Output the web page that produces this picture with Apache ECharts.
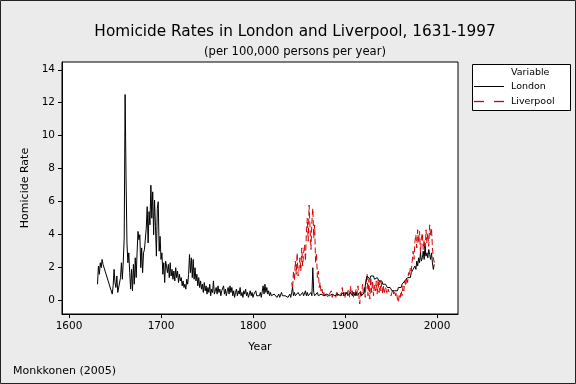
<!DOCTYPE html>
<html>
<head>
<meta charset="utf-8">
<script src="https://cdn.jsdelivr.net/npm/echarts@6/dist/echarts.min.js"></script>
<style>
html,body{margin:0;padding:0;background:#ebebeb;}
#c{width:576px;height:384px;}
</style>
</head>
<body>
<div id="c"></div>
<script>
// ---- data ----
var londonYears = [1631,1632,1633,1634,1635,1636,1637,
1647,1648,1649,1650,1651,1652,1653,1654,1655,1656,1657,1658,1659,1660,
1661,1662,1663,1664,1665,1666,1667,1668,1669,1670,1671,1672,1673,1674,1675,1676,1677,1678,1679,1680,
1681,1682,1683,1684,1685,1686,1687,1688,1689,1690,1691,1692,1693,1694,1695,1696,1697,1698,1699,1700,
1701,1702,1703,1704,1705,1706,1707,1708,1709,1710,1711,1712,1713,1714,1715,1716,1717,1718,1719,1720,
1721,1722,1723,1724,1725,1726,1727,1728,1729,1730,1731,1732,1733,1734,1735,1736,1737,1738,1739,1740,
1741,1742,1743,1744,1745,1746,1747,1748,1749,1750,1751,1752,1753,1754,1755,1756,1757,1758,1759,1760,
1761,1762,1763,1764,1765,1766,1767,1768,1769,1770,1771,1772,1773,1774,1775,1776,1777,1778,1779,1780,
1781,1782,1783,1784,1785,1786,1787,1788,1789,1790,1791,1792,1793,1794,1795,1796,1797,1798,1799,1800,
1801,1802,1803,1804,1805,1806,1807,1808,1809,1810,1811,1812,1813,1814,1815,1816,1817,1818,1819,1820,
1821,1822,1823,1824,1825,1826,1827,1828,1829,1830,1831,1832,1833,1834,1835,1836,1837,1838,1839,1840,
1841,1842,1843,1844,1845,1846,1847,1848,1849,1850,1851,1852,1853,1854,1855,1856,1857,1858,1859,1860,
1861,1862,1863,1864,1865,1866,1867,1868,1869,1870,1871,1872,1873,1874,1875,1876,1877,1878,1879,1880,
1881,1882,1883,1884,1885,1886,1887,1888,1889,1890,1891,1892,1893,1894,1895,1896,1897,1898,1899,1900,
1901,1902,1903,1904,1905,1906,1907,1908,1909,1910,1911,1912,1913,1914,1915,1916,1917,1918,1919,1920,
1921,1922,1923,1924,1925,1926,1927,1928,1929,1930,1931,1932,1933,1934,1935,1936,1937,1938,1939,1940,
1941,1942,1943,1944,1945,1946,1947,1948,1949,1950,1951,1952,1953,1954,1955,1956,1957,1958,1959,1960,
1961,1962,1963,1964,1965,1966,1967,1968,1969,1970,1971,1972,1973,1974,1975,1976,1977,1978,1979,1980,
1981,1982,1983,1984,1985,1986,1987,1988,1989,1990,1991,1992,1993,1994,1995,1996,1997];
var londonRates = [1.0,2.1,1.6,2.3,2.0,2.5,2.2,
0.4,0.9,1.9,1.1,0.8,1.5,0.5,0.6,0.5,1.4,2.3,1.3,2.4,3.8,
12.5,7.5,3.5,2.3,2.9,1.7,0.7,1.9,0.6,2.2,1.0,2.6,1.4,2.9,4.2,3.7,4.0,2.0,3.2,1.7,
2.9,3.1,3.1,4.4,5.7,3.5,5.4,4.6,7.0,5.0,6.6,4.0,6.1,4.5,2.7,5.6,6.0,3.0,3.9,2.5,
2.9,1.6,2.3,1.1,2.4,2.1,1.7,2.2,1.4,2.3,1.5,1.9,1.3,1.8,1.2,2.0,1.4,1.8,1.1,1.6,
1.2,1.4,0.9,1.2,0.8,1.0,0.7,1.3,1.0,1.6,2.8,1.7,2.6,1.4,2.5,1.3,2.0,1.2,1.6,0.9,
1.4,0.8,1.2,0.7,1.0,0.5,1.1,0.6,0.9,0.4,0.8,0.5,1.0,0.3,0.7,0.5,1.2,0.4,0.6,0.8,
0.4,0.9,0.5,0.7,0.3,0.6,0.5,0.9,0.4,0.7,0.3,0.6,0.8,0.4,0.9,0.5,0.8,0.3,0.6,0.2,
0.5,0.7,0.3,0.6,0.4,0.8,0.3,0.5,0.2,0.6,0.4,0.7,0.3,0.5,0.2,0.4,0.6,0.3,0.5,0.2,
0.4,0.3,0.6,0.3,0.4,0.2,0.3,0.5,0.2,0.3,0.9,0.4,1.0,0.5,0.8,0.4,0.6,0.3,0.5,0.3,
0.4,0.2,0.4,0.3,0.5,0.2,0.3,0.4,0.2,0.3,0.5,0.3,0.2,0.4,0.3,0.2,0.3,0.2,0.3,0.4,
0.2,0.5,0.8,0.3,0.5,0.3,0.4,0.2,0.5,0.6,0.3,0.4,0.2,0.5,0.3,0.4,0.6,0.3,0.5,0.3,
0.4,0.3,0.5,0.3,2.0,0.5,0.3,0.4,0.3,0.5,0.3,0.4,0.3,0.4,0.3,0.5,0.3,0.4,0.2,0.4,
0.3,0.5,0.3,0.4,0.2,0.4,0.3,0.5,0.3,0.4,0.2,0.4,0.3,0.5,0.3,0.4,0.3,0.5,0.3,0.4,
0.3,0.5,0.3,0.4,0.3,0.5,0.4,0.3,0.5,0.4,0.3,0.5,0.3,0.4,0.3,0.5,0.4,0.3,0.4,0.3,
0.5,0.4,1.3,1.5,1.4,1.6,1.3,1.5,1.6,1.4,1.5,1.3,1.4,1.2,1.4,1.3,1.2,1.3,1.1,1.2,
1.0,1.1,0.9,1.0,0.9,0.8,0.9,0.7,0.8,0.7,0.6,0.7,0.5,0.6,0.5,0.7,0.6,0.8,0.7,0.9,
0.8,1.0,0.9,1.1,1.2,1.1,1.3,1.4,1.3,1.5,1.4,1.7,1.6,1.9,1.8,2.1,1.9,2.4,2.1,2.6,
2.3,2.9,2.4,2.6,3.0,2.5,3.3,2.7,2.9,2.6,3.1,2.8,2.5,2.9,2.3,1.9,2.2];

var liverpoolYears = [1842,1843,1844,1845,1846,1847,1848,1849,1850,
1851,1852,1853,1854,1855,1856,1857,1858,1859,1860,1861,1862,1863,1864,1865,1866,1867,1868,1869,1870,
1871,1872,1873,1874,1875,1876,1877,1878,1879,1880,1881,1882,1883,1884,1885,1886,1887,1888,1889,1890,
1891,1892,1893,1894,1895,1896,1897,1898,1899,1900,1901,1902,1903,1904,1905,1906,1907,1908,1909,1910,
1911,1912,1913,1914,1915,1916,1917,1918,1919,1920,1921,1922,1923,1924,1925,1926,1927,1928,1929,1930,
1931,1932,1933,1934,1935,1936,1937,1938,1939,1940,1941,1942,1943,1944,1945,1946,1947,1948,1949,1950,
1951,1952,1953,1954,1955,1956,1957,1958,1959,1960,1961,1962,1963,1964,1965,1966,1967,1968,1969,1970,
1971,1972,1973,1974,1975,1976,1977,1978,1979,1980,1981,1982,1983,1984,1985,1986,1987,1988,1989,1990,
1991,1992,1993,1994,1995,1996,1997];
var liverpoolRates = [1.1,0.7,1.8,1.2,2.4,1.6,2.9,1.5,1.9,
2.6,1.8,3.2,2.1,2.9,3.4,2.4,4.1,5.0,3.6,5.8,4.4,3.1,4.8,5.6,3.8,4.6,2.3,2.9,1.4,
1.8,0.8,1.1,0.5,0.7,0.3,0.5,0.2,0.4,0.3,0.5,0.2,0.4,0.3,0.6,0.2,0.4,0.3,0.5,0.2,
0.6,0.3,0.4,0.2,0.5,0.3,0.8,0.3,0.5,0.2,0.6,0.4,0.3,0.7,0.2,0.9,0.4,0.6,0.2,0.5,
0.3,0.7,0.4,0.9,0.3,-0.2,0.6,0.3,1.0,0.4,0.8,0.2,1.1,1.6,0.3,1.3,0.1,1.4,0.5,1.2,
0.3,1.0,0.6,1.2,0.4,1.3,0.5,1.2,0.6,1.1,0.4,0.9,0.5,0.8,0.6,0.4,0.7,0.5,0.6,0.3,
0.5,0.7,0.4,0.6,0.3,0.5,0.1,-0.1,0.4,0.2,0.6,0.3,0.9,0.6,1.2,0.9,1.4,1.1,1.7,1.5,
2.0,1.8,2.4,3.0,2.5,3.6,4.0,3.2,4.3,3.5,4.2,2.9,3.8,4.1,3.1,3.7,2.8,4.3,3.5,4.1,
3.3,4.6,3.9,4.4,3.2,2.6,2.3];

var xTicks = [1600,1700,1800,1900,2000];
var yTicks = [0,2,4,6,8,10,12,14];
var seriesNames = ['London','Liverpool'];

function pairs(xs, ys){ var out=[]; for(var i=0;i<xs.length;i++){ out.push([xs[i], ys[i]]); } return out; }

var FONT = 'DejaVu Sans';
var RED = '#d40000';
var chart = echarts.init(document.getElementById('c'), null, {renderer:'canvas'});
var option = {
  animation: false,
  backgroundColor: '#ebebeb',
  textStyle: {fontFamily: FONT},
  title: [
    {text: 'Homicide Rates in London and Liverpool, 1631-1997', left: 290, top: 20, textAlign: 'center',
     textStyle: {fontFamily: FONT, fontSize: 15.3, fontWeight: 'normal', color: '#000'}},
    {text: '(per 100,000 persons per year)', left: 290, top: 41, textAlign: 'center',
     textStyle: {fontFamily: FONT, fontSize: 11.6, fontWeight: 'normal', color: '#000'}}
  ],
  grid: {left: 62, top: 62, width: 396, height: 252, show: true, backgroundColor: '#fff',
         borderColor: '#000', borderWidth: 1, containLabel: false},
  xAxis: {
    type: 'value', min: 1592.4, max: 2022.8,
    name: 'Year', nameLocation: 'middle', nameGap: 28,
    nameTextStyle: {fontFamily: FONT, fontSize: 11, color: '#000'},
    axisLine: {show: true, onZero: false, lineStyle: {color: '#000', width: 1}},
    axisTick: {show: true, length: 4, inside: false, customValues: xTicks, lineStyle: {color: '#000'}},
    axisLabel: {customValues: xTicks, margin: 7, fontFamily: FONT, fontSize: 10.5, color: '#000',
                formatter: function(v){ return String(v); }},
    splitLine: {show: false}
  },
  yAxis: {
    type: 'value', min: -0.806, max: 14.47,
    name: 'Homicide Rate', nameLocation: 'middle', nameGap: 29,
    nameTextStyle: {fontFamily: FONT, fontSize: 11, color: '#000'},
    axisLine: {show: true, onZero: false, lineStyle: {color: '#000', width: 1}},
    axisTick: {show: true, length: 4, inside: false, customValues: yTicks, lineStyle: {color: '#000'}},
    axisLabel: {customValues: yTicks, margin: 7, fontFamily: FONT, fontSize: 10.5, color: '#000',
                formatter: function(v){ return String(v); }},
    splitLine: {show: false}
  },
  legend: {show: false},
  graphic: [
    {type: 'rect', shape: {x: 472.5, y: 64.5, width: 98, height: 46}, style: {fill: '#fff', stroke: '#000', lineWidth: 1}, silent: true},
    {type: 'text', x: 511, y: 73, style: {text: 'Variable', font: '9.5px "DejaVu Sans"', fill: '#000', verticalAlign: 'middle'}},
    {type: 'line', shape: {x1: 474, y1: 86.5, x2: 504, y2: 86.5}, style: {stroke: '#000', lineWidth: 1}},
    {type: 'text', x: 511, y: 86.5, style: {text: seriesNames[0], font: '9.5px "DejaVu Sans"', fill: '#000', verticalAlign: 'middle'}},
    {type: 'line', shape: {x1: 474, y1: 101.5, x2: 504, y2: 101.5}, style: {stroke: '#c00020', lineWidth: 1.3, lineDash: [10, 10]}},
    {type: 'text', x: 511, y: 101.5, style: {text: seriesNames[1], font: '9.5px "DejaVu Sans"', fill: '#000', verticalAlign: 'middle'}},
    {type: 'text', x: 13, y: 366, style: {text: 'Monkkonen (2005)', font: '11px "DejaVu Sans"', fill: '#000'}},
    {type: 'rect', shape: {x: 0.5, y: 0.5, width: 575, height: 383}, style: {fill: 'none', stroke: '#222', lineWidth: 1}, silent: true}
  ],
  series: [
    {name: seriesNames[0], type: 'line', symbol: 'none', data: pairs(londonYears, londonRates),
     lineStyle: {color: '#000', width: 1}, itemStyle: {color: '#000'}, z: 3},
    {name: seriesNames[1], type: 'line', symbol: 'none', data: pairs(liverpoolYears, liverpoolRates),
     lineStyle: {color: RED, width: 1, type: [6, 3]}, itemStyle: {color: RED}, z: 2}
  ]
};
chart.setOption(option);
</script>
</body>
</html>
